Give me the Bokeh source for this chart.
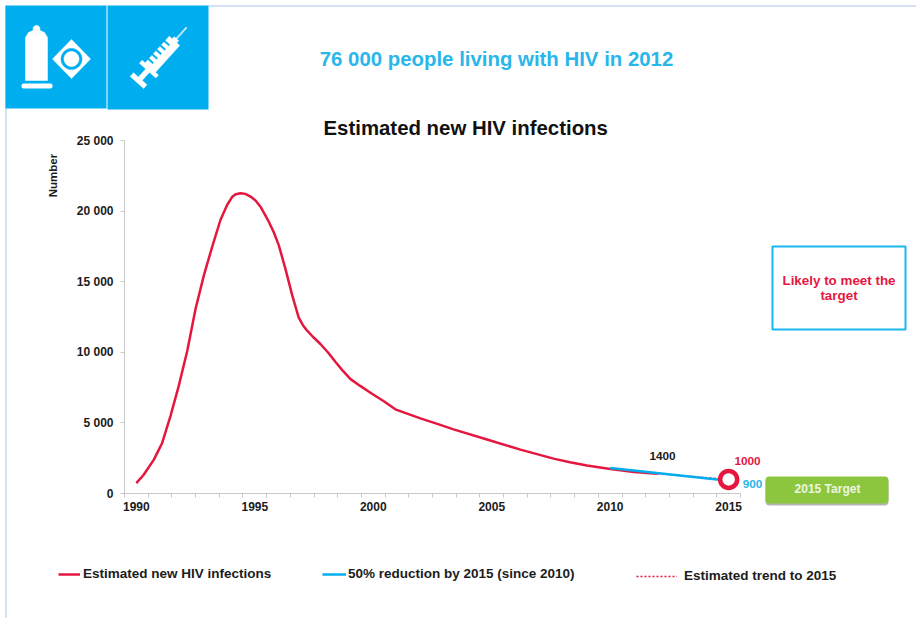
import numpy as np
from bokeh.plotting import figure
from bokeh.embed import file_html
from bokeh.resources import INLINE
from bokeh.core.properties import value
from bokeh.models import Range1d, FixedTicker, Legend, LegendItem

# ---------- data ----------
est_years = [1990.0, 1990.31, 1990.74, 1990.95, 1991.09, 1991.44, 1991.79, 1992.15, 1992.5, 1992.85, 1993.2, 1993.55,
             1993.83, 1994.06, 1994.2, 1994.39, 1994.6, 1994.82, 1995.03, 1995.24, 1995.59, 1995.8, 1996.01, 1996.29,
             1996.58, 1996.85, 1997.03, 1997.21, 1997.45, 1997.77, 1998.1, 1998.4, 1998.7, 1999.04, 1999.45, 1999.88,
             2000.43, 2000.93, 2001.43, 2001.99, 2002.7, 2003.39, 2004.8, 2006.21, 2007.61, 2008.3, 2009.02, 2009.93,
             2011.0, 2012.0]
est_values = [735, 1330, 2400, 3110, 3580, 5480, 7620, 10110, 13080, 15450, 17470, 19370,
              20430, 21040, 21200, 21270, 21220, 21030, 20750, 20310, 19250, 18500, 17590, 15930,
              14030, 12480, 11920, 11530, 11100, 10590, 9970, 9330, 8720, 8100, 7620, 7140,
              6550, 5960, 5660, 5320, 4930, 4540, 3820, 3110, 2470, 2210, 1990, 1760,
              1530, 1400]
target_years = [2010, 2015]
target_values = [1800, 900]
trend_years = [2012, 2015]
trend_values = [1400, 1000]
marker_year = [2015]
marker_value = [1000]
x_tick_years = [1990, 1995, 2000, 2005, 2010, 2015]
y_tick_values = [0, 5000, 10000, 15000, 20000, 25000]
y_tick_labels = ["0", "5 000", "10 000", "15 000", "20 000", "25 000"]

RED = "#e5173f"
BLUE = "#00aeef"
GREEN = "#8cc63f"
INK = "#1c1c1c"
GREY = "#c9c9c9"
FONT = "Liberation Sans"
W, H = 916, 618
PIN = {"position": "absolute", "left": "0px", "top": "0px"}

# ---------- page decoration: a full-page figure measured in pixels ----------
bg = figure(width=W, height=H, output_backend="svg", toolbar_location=None,
            x_range=Range1d(0, W), y_range=Range1d(H, 0), x_axis_location=None, y_axis_location=None,
            min_border=0, min_border_left=0, min_border_right=0, min_border_top=0, min_border_bottom=0,
            background_fill_color="white", border_fill_color="white", styles=PIN)
bg.outline_line_color = None
bg.grid.visible = False


def rect(l, r, t, b, color, line=None, lw=0, radius=0):
    bg.quad(left=[l], right=[r], top=[t], bottom=[b], fill_color=color, line_color=line, line_width=lw,
            border_radius=radius)


def poly(xs, ys, color):
    bg.patch(list(map(float, xs)), list(map(float, ys)), fill_color=color, line_color=color, line_width=0.5)


def disc(cx, cy, r, color):
    a = np.linspace(0, 2 * np.pi, 48, endpoint=False)
    poly(cx + r * np.cos(a), cy + r * np.sin(a), color)


def text(s, x, y, size, color, angle=0):
    bg.text([x], [y - 1], text=[s], text_font=value(FONT), text_font_size=size, text_font_style="bold",
            text_color=color, text_align="center", text_baseline="middle", angle=angle)


# page frame lines and header
rect(208, 916, 5, 6, "#a9c8ea")
rect(5, 6, 5, 618, "#a9c8ea")
rect(5, 106, 5, 108, BLUE)
rect(107, 208, 5, 109, BLUE)
text("76 000 people living with HIV in 2012", 496, 59, "20.4px", "#29b6ea")

# condom and packet icon
a = np.linspace(np.pi, 2 * np.pi, 12)
poly(np.r_[25, 25, 28, 32.5, 36 + 3.5 * np.cos(a), 39.5, 44, 47, 47],
     np.r_[80, 37, 32, 30, 28.5 + 3.5 * np.sin(a), 30, 32, 37, 80], "white")
rect(21, 52, 83, 88, "white", radius=2)
poly([71, 90, 71, 52], [39, 58.5, 78, 58.5], "white")
disc(71, 58.5, 10.5, BLUE)
disc(71, 58.5, 7.5, "white")

# syringe icon
tip = np.array([186.0, 27.0])
d = np.array([-0.67, 0.743])
n = np.array([0.743, 0.67])


def sy(t0, t1, h0, h1, color):
    pts = [tip + t0 * d + h0 * n, tip + t1 * d + h0 * n, tip + t1 * d + h1 * n, tip + t0 * d + h1 * n]
    poly([q[0] for q in pts], [q[1] for q in pts], color)


sy(0, 16, -0.7, 0.7, "#cdeefb")
sy(15, 19, -3, 3, "white")
sy(18, 55, -7, 7, "white")
sy(54, 58, -11, 11, "white")
sy(57, 70, -2.5, 2.5, "white")
sy(69, 74, -9, 9, "white")
for t in (24, 30, 36, 42, 48):
    sy(t, t + 1.6, -7.5, -1, BLUE)

# callout and target button
rect(772, 905, 246, 329, "white", line="#1ab7f0", lw=2)
text("Likely to meet the", 838.5, 281, "13.4px", RED)
text("target", 838.5, 296, "13.4px", RED)
rect(765, 888, 478, 505, "#b5b5b5", radius=4)
rect(765, 888, 476, 503, GREEN, radius=4)
text("2015 Target", 827, 489, "12px", "#eef6e0")

# value labels and the axis caption
text("1400", 662, 456, "11.8px", INK)
text("1000", 747, 461, "11.8px", RED)
text("900", 752, 484, "11.8px", "#29b6ea")
text("Number", 52, 176, "11.5px", INK, angle=np.pi / 2)


# legends: their keys carry the line styles used for the series below
def legend(label, color, lw, dash, x, bottom, width, standoff):
    key = bg.line([-20, -10], [-20, -20], line_color=color, line_width=lw, line_dash=dash)
    lg = Legend(items=[LegendItem(label=label, renderers=[key])], location=(x, H - bottom),
                padding=0, margin=0, spacing=0, glyph_width=width, glyph_height=14, label_standoff=standoff,
                label_height=14, border_line_color=None, background_fill_alpha=0,
                label_text_font=FONT, label_text_font_size="13.5px", label_text_font_style="bold",
                label_text_color=INK)
    bg.add_layout(lg, "center")


legend("Estimated new HIV infections", RED, 2.5, "solid", 58, 581, 22, 3)
legend("50% reduction by 2015 (since 2010)", BLUE, 2.5, "solid", 322, 581, 24, 2)
legend("Estimated trend to 2015", RED, 1.5, "2 2", 636, 583, 41, 7)

# ---------- the chart itself, laid over the page ----------
p = figure(width=W, height=H, output_backend="svg", toolbar_location=None,
           x_range=Range1d(1989.5, 2015.5), y_range=Range1d(0, 25000),
           min_border_left=124, min_border_right=W - 740, min_border_top=140, min_border_bottom=H - 493,
           background_fill_alpha=0, border_fill_alpha=0, styles=PIN)
p.outline_line_color = None
p.grid.visible = False

p.title.text = "Estimated new HIV infections"
p.title.align = "left"
p.title.offset = 199
p.title.text_font = FONT
p.title.text_font_size = "20.4px"
p.title.text_font_style = "bold"
p.title.text_color = "#111111"
p.title.standoff = 4

xa = p.xaxis[0]
xa.ticker = FixedTicker(ticks=x_tick_years, minor_ticks=[1989.5 + i for i in range(27)])
ya = p.yaxis[0]
ya.ticker = FixedTicker(ticks=y_tick_values, minor_ticks=[])
ya.major_label_overrides = dict(zip(y_tick_values, y_tick_labels))
for ax in (xa, ya):
    ax.axis_line_color = GREY
    ax.major_tick_line_color = GREY
    ax.minor_tick_line_color = GREY
    ax.major_label_text_font = FONT
    ax.major_label_text_font_size = "12px"
    ax.major_label_text_font_style = "bold"
    ax.major_label_text_color = INK
xa.major_tick_out = 0
xa.major_tick_in = 0
xa.minor_tick_out = 4
xa.minor_tick_in = 0
xa.major_label_standoff = 4
ya.major_tick_out = 4
ya.major_tick_in = 0
ya.minor_tick_out = 0
ya.minor_tick_in = 0
ya.major_label_standoff = 7

p.line(est_years, est_values, line_color=RED, line_width=2.5, line_join="round")
p.line(trend_years, trend_values, line_color=RED, line_width=1.5, line_dash="2 2")
p.line(target_years, target_values, line_color=BLUE, line_width=2.5)
p.scatter(marker_year, marker_value, marker="circle", size=17, fill_color="white", line_color=RED, line_width=4.5)

open("out.html", "w").write(file_html([bg, p], INLINE))
